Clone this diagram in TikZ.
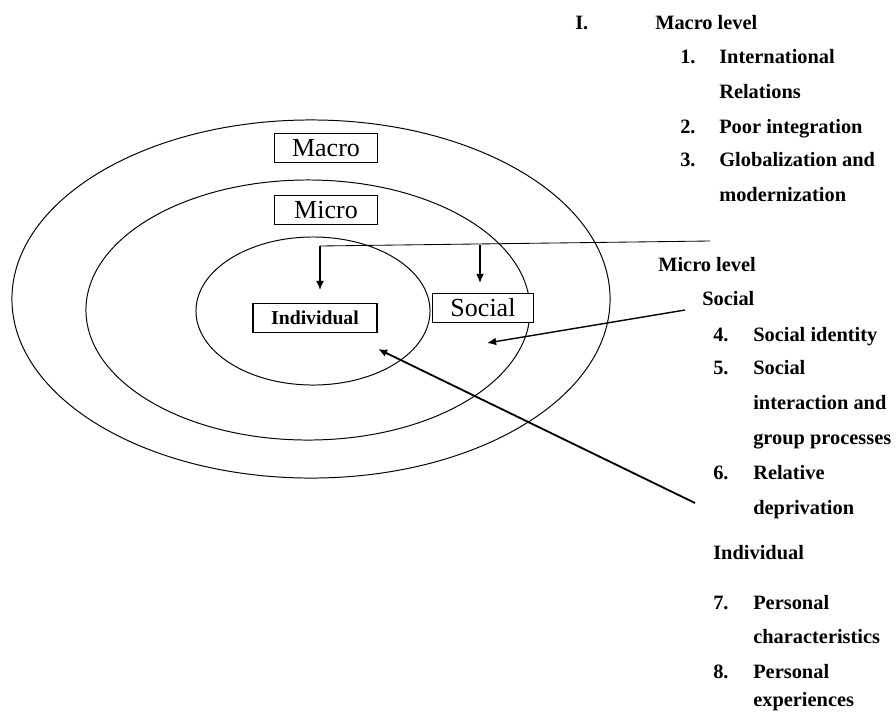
\documentclass[tikz,border=0pt]{standalone}
\usepackage{fontspec}
\setmainfont{Liberation Serif}
\usetikzlibrary{arrows.meta}
\tikzset{
  ring/.style={draw,line width=0.7pt},
  lvlbox/.style={draw,line width=1pt,inner sep=0pt,minimum height=21pt,font=\fontsize{18.5}{20}\selectfont},
  lst/.style={anchor=base west,inner sep=0pt,font=\bfseries\fontsize{14.5}{16}\selectfont},
  pointer/.style={line width=1pt,-{Latex[length=6.5pt,width=5.5pt]}},
}
\begin{document}
\begin{tikzpicture}[x=0.025cm,y=-0.025cm]
  \useasboundingbox (0,0) rectangle (896,713);
  % rings
  \draw[ring] (311,299) ellipse [x radius=7.475cm, y radius=4.475cm];
  \draw[ring] (308,310) ellipse [x radius=5.55cm, y radius=3.25cm];
  \draw[ring] (313,311) ellipse [x radius=2.925cm, y radius=1.85cm];
  % level boxes
  \node[lvlbox,minimum width=73pt] (macro) at (326,148) {Macro};
  \node[lvlbox,minimum width=73pt] (micro) at (326,210) {Micro};
  \node[lvlbox,minimum width=72pt,fill=white] (social) at (483,308) {Social};
  \node[lvlbox,minimum width=88pt,font=\bfseries\fontsize{14}{16}\selectfont] (indiv) at (315,318) {Individual};
  % macro list
  \node[lst] (hdI) at (575,29) {I.};
  \node[lst] (hdmacro) at (655,29) {Macro level};
  \node[lst] (n1) at (680,63) {1.};
  \node[lst] (t1a) at (719,63) {International};
  \node[lst] (t1b) at (719,98) {Relations};
  \node[lst] (n2) at (680,133) {2.};
  \node[lst] (t2) at (719,133) {Poor integration};
  \node[lst] (n3) at (680,166) {3.};
  \node[lst] (t3a) at (719,166) {Globalization and};
  \node[lst] (t3b) at (719,201) {modernization};
  % micro list
  \node[lst] (hdmicro) at (658,271) {Micro level};
  \node[lst] (hdsocial) at (702,305) {Social};
  \node[lst] (n4) at (713,341) {4.};
  \node[lst] (t4) at (753,341) {Social identity};
  \node[lst] (n5) at (713,374) {5.};
  \node[lst] (t5a) at (753,374) {Social};
  \node[lst] (t5b) at (753,409) {interaction and};
  \node[lst] (t5c) at (753,444) {group processes};
  \node[lst] (n6) at (713,479) {6.};
  \node[lst] (t6a) at (753,479) {Relative};
  \node[lst] (t6b) at (753,514) {deprivation};
  % individual list
  \node[lst] (hdindiv) at (713,559) {Individual};
  \node[lst] (n7) at (713,609) {7.};
  \node[lst] (t7a) at (753,609) {Personal};
  \node[lst] (t7b) at (753,643) {characteristics};
  \node[lst] (n8) at (713,678) {8.};
  \node[lst] (t8a) at (753,678) {Personal};
  \node[lst] (t8b) at (753,706) {experiences};
  % bracket line
  \coordinate (brk) at (710,241);
  \coordinate (bend) at (320,246);
  \coordinate (split) at (480,245);
  \coordinate (indtip) at (320,290);
  \coordinate (soctip) at (480,283);
  \draw[line width=0.6pt] (brk) -- (bend);
  \draw[pointer] (bend) -- (indtip);
  \draw[pointer] (split) -- (soctip);
  % long arrows
  \coordinate (socfrom) at (685,310);
  \coordinate (socto) at (487,343);
  \coordinate (indfrom) at (695,503);
  \coordinate (indto) at (378,349);
  \draw[pointer] (socfrom) -- (socto);
  \draw[pointer,line width=1.3pt] (indfrom) -- (indto);
\end{tikzpicture}
\end{document}
